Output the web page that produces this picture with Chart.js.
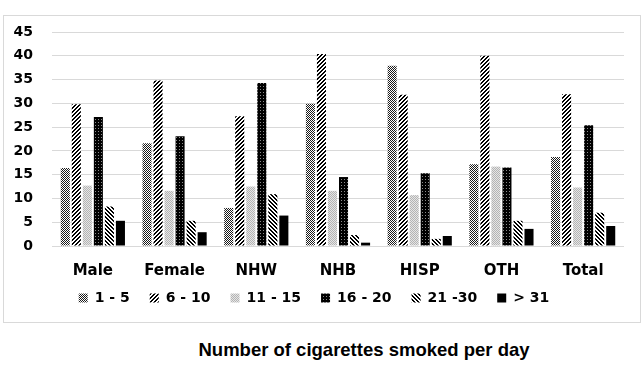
<!DOCTYPE html>
<html>
<head>
<meta charset="utf-8">
<script src="https://cdn.jsdelivr.net/npm/chart.js@4"></script>
<style>
  body { margin: 0; background: #fff; width: 644px; height: 385px; position: relative; overflow: hidden; }
  #box { position: absolute; left: 3px; top: 15px; width: 636px; height: 306px; border: 1px solid #d9d9d9; }
  #titulo { position: absolute; left: 0; width: 728px; top: 339px; text-align: center;
    font: bold 18.5px "Liberation Sans", Arial, sans-serif; color: #000; }
</style>
</head>
<body>
<div id="box"><canvas id="grafico" width="636" height="306"></canvas></div>
<div id="titulo">Number of cigarettes smoked per day</div>
<script>
const grupos = ['Male', 'Female', 'NHW', 'NHB', 'HISP', 'OTH', 'Total'];
const faixas = ['1 - 5', '6 - 10', '11 - 15', '16 - 20', '21 -30', '> 31'];

const cig1a5 = [16.4, 21.6, 8.0, 29.9, 37.9, 17.2, 18.7];
const cig6a10 = [29.8, 34.8, 27.3, 40.4, 31.8, 40.0, 31.9];
const cig11a15 = [12.7, 11.6, 12.5, 11.6, 10.7, 16.7, 12.3];
const cig16a20 = [27.1, 23.1, 34.3, 14.5, 15.3, 16.5, 25.4];
const cig21a30 = [8.3, 5.3, 10.9, 2.3, 1.5, 5.3, 7.0];
const cigMais31 = [5.3, 2.9, 6.4, 0.7, 2.1, 3.6, 4.2];

const yTicks = [0, 5, 10, 15, 20, 25, 30, 35, 40, 45];

const ctx = document.getElementById('grafico').getContext('2d');

// small tiles turned into canvas patterns
const criarPadrao = (tamanho, desenhar) => {
  const c = document.createElement('canvas');
  c.width = tamanho;
  c.height = tamanho;
  const g = c.getContext('2d');
  desenhar(g);
  return ctx.createPattern(c, 'repeat');
};

const xadrez = criarPadrao(2, (g) => {
  g.fillStyle = '#ffffff';
  g.fillRect(0, 0, 2, 2);
  g.fillStyle = '#1a1a1a';
  g.fillRect(0, 0, 1, 1);
  g.fillRect(1, 1, 1, 1);
});

const listraDir = criarPadrao(4, (g) => {
  g.fillStyle = '#ffffff';
  g.fillRect(0, 0, 4, 4);
  g.fillStyle = '#000000';
  for (let i = 0; i < 4; i++) {
    g.fillRect(3 - i, i, 1, 1);
    g.fillRect((4 - i) % 4, i, 1, 1);
  }
});

const pontilhadoClaro = criarPadrao(2, (g) => {
  g.fillStyle = '#e6e6e6';
  g.fillRect(0, 0, 2, 2);
  g.fillStyle = '#b3b3b3';
  g.fillRect(0, 0, 1, 1);
  g.fillRect(1, 1, 1, 1);
});

const pretoPontos = criarPadrao(3, (g) => {
  g.fillStyle = '#000000';
  g.fillRect(0, 0, 3, 3);
  g.fillStyle = '#8c8c8c';
  g.fillRect(1, 1, 1, 1);
});

const listraEsq = criarPadrao(4, (g) => {
  g.fillStyle = '#ffffff';
  g.fillRect(0, 0, 4, 4);
  g.fillStyle = '#000000';
  for (let i = 0; i < 4; i++) {
    g.fillRect(i, i, 1, 1);
    g.fillRect((i + 1) % 4, i, 1, 1);
  }
});

const series = [cig1a5, cig6a10, cig11a15, cig16a20, cig21a30, cigMais31];
const preenchimentos = [xadrez, listraDir, pontilhadoClaro, pretoPontos, listraEsq, '#000000'];

const fonte = 'DejaVu Sans';

// legend keeps wide item spacing but sits closer to the axis labels
const subirLegenda = {
  id: 'subirLegenda',
  afterLayout: (chart) => {
    chart.legend.top -= 11;
    chart.legend.bottom -= 11;
  },
};

new Chart(ctx, {
  type: 'bar',
  data: {
    labels: grupos,
    datasets: series.map((dados, i) => ({
      label: faixas[i],
      data: dados,
      backgroundColor: preenchimentos[i],
      borderWidth: 0,
      categoryPercentage: 0.81,
      barPercentage: 0.82,
    })),
  },
  plugins: [subirLegenda],
  options: {
    responsive: false,
    animation: false,
    layout: { padding: { left: 0, right: 16, top: 16, bottom: -4 } },
    plugins: {
      tooltip: { enabled: false },
      legend: {
        position: 'bottom',
        labels: {
          boxWidth: 9,
          boxHeight: 9,
          padding: 20,
          color: '#000',
          font: { family: fonte, size: 14, weight: 'bold' },
        },
      },
    },
    scales: {
      x: {
        afterFit: (scale) => { scale.height = 36; },
        grid: { display: false },
        border: { display: false },
        ticks: {
          color: '#000',
          padding: 8,
          font: { family: fonte, size: 15, weight: 'bold' },
        },
      },
      y: {
        min: 0,
        max: 45,
        afterFit: (scale) => {
          scale.width = 48;
          scale.paddingTop = 0;
          scale.paddingBottom = 0;
        },
        afterBuildTicks: (scale) => { scale.ticks = yTicks.map((v) => ({ value: v })); },
        grid: { color: '#d9d9d9', drawTicks: false },
        border: { display: false },
        ticks: {
          color: '#000',
          padding: 19,
          font: { family: fonte, size: 14, weight: 'bold' },
        },
      },
    },
  },
});
</script>
</body>
</html>
